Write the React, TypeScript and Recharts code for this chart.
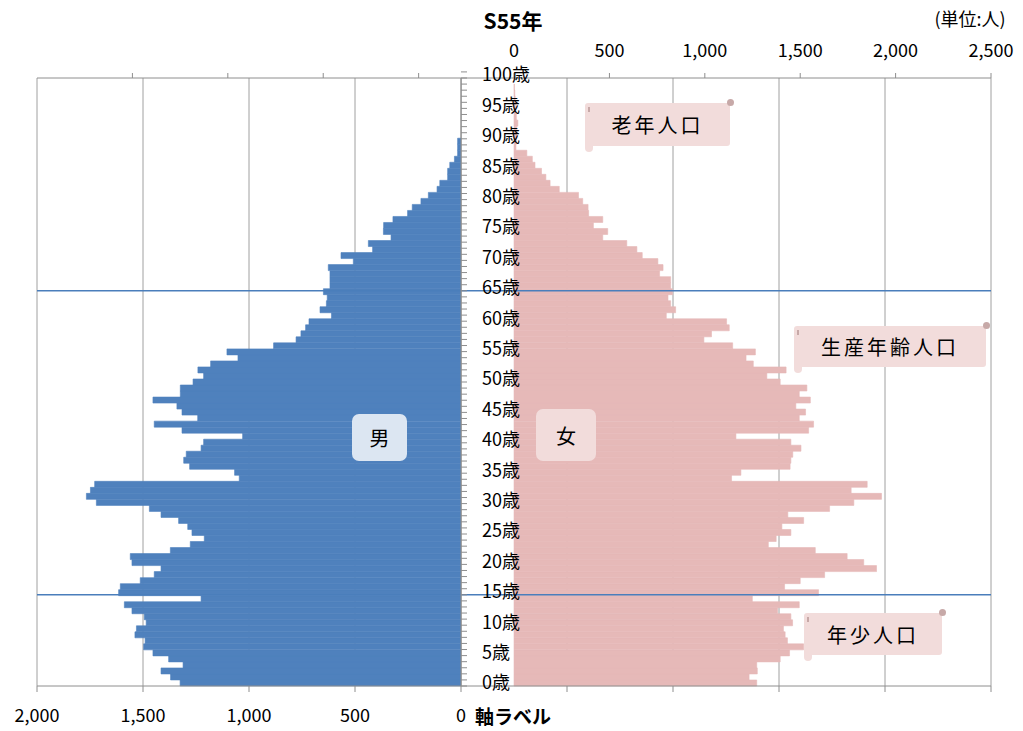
import { BarChart, Bar, XAxis, YAxis, CartesianGrid, ReferenceLine } from 'recharts';

// ages 0..100 (one row per year of age)
const ages = Array.from({ length: 101 }, (_, i) => i);

const maleCounts = [
  1325, 1370, 1415, 1311, 1379, 1453, 1497, 1490, 1538, 1531,
  1485, 1494, 1552, 1588, 1226, 1615, 1607, 1513, 1447, 1415,
  1552, 1560, 1371, 1277, 1211, 1269, 1289, 1332, 1415, 1470,
  1720, 1767, 1748, 1728, 1046, 1068, 1280, 1308, 1296, 1226,
  1214, 1030, 1316, 1447, 1242, 1316, 1340, 1453, 1324, 1324,
  1264, 1214, 1241, 1181, 1052, 1104, 884, 778, 755, 733,
  717, 611, 665, 635, 631, 649, 618, 618, 618, 626,
  508, 566, 417, 437, 330, 366, 365, 321, 252, 230,
  189, 154, 113, 100, 63, 63, 53, 31, 16, 16,
  16, 0, 0, 0, 0, 0, 0, 0, 0, 0,
  0,
];

const femaleCounts = [
  1272, 1232, 1275, 1272, 1395, 1444, 1518, 1433, 1421, 1412,
  1460, 1451, 1381, 1495, 1249, 1596, 1418, 1500, 1628, 1900,
  1833, 1746, 1579, 1333, 1374, 1451, 1404, 1518, 1435, 1654,
  1781, 1926, 1767, 1851, 1140, 1189, 1447, 1451, 1461, 1504,
  1451, 1163, 1544, 1570, 1495, 1528, 1477, 1553, 1495, 1535,
  1395, 1325, 1426, 1254, 1216, 1265, 1146, 995, 1035, 1128,
  1114, 798, 847, 821, 807, 830, 821, 821, 763, 781,
  754, 672, 644, 591, 465, 491, 416, 465, 391, 388,
  360, 338, 237, 189, 167, 144, 110, 96, 67, 10,
  12, 14, 14, 20, 12, 8, 7, 6, 4, 2,
  0,
];

const labelAges = [0, 5, 10, 15, 20, 25, 30, 35, 40, 45, 50, 55, 60, 65, 70, 75, 80, 85, 90, 95, 100];
const maleTicks = [0, 500, 1000, 1500, 2000];
const maleTopTicks = [500, 1000, 1500, 2000];
const femaleTicks = [0, 500, 1000, 1500, 2000, 2500];
const femaleGridTicks = [0, 500, 1000, 1500, 2000];
const ageEdges = Array.from({ length: 102 }, (_, i) => i);
const boundaryAges = [65, 15];

const rows = ages.map((age, i) => ({ age, male: maleCounts[i], female: femaleCounts[i] }));
// label ticks sit in the middle of each one-year band
const labelTicks = labelAges.map((a) => a + 0.5);

const FONT = '"Noto Sans CJK JP", "Noto Sans", sans-serif';
const AXIS_GREY = '#8e8e8e';
const GRID_GREY = '#a0a0a0';
const MALE_BLUE = '#4f81bd';
const FEMALE_PINK = '#e6b9b8';
const LINE_BLUE = '#4a7ebb';
const NOTE_PINK = '#f2dcdb';

const fmt = (v: number) => v.toLocaleString('en-US');
const blank = () => '';
const ageLabel = (v: number) => `${Math.round(v - 0.5)}歳`;

type NoteProps = { left: number; top: number; width: number; height: number; text: string };

function Scroll({ left, top, width, height, text }: NoteProps) {
  return (
    <div style={{ position: 'absolute', left, top, width, height }}>
      <div style={{ position: 'absolute', left: 0, top: 0, width, height, background: NOTE_PINK, borderRadius: 3 }} />
      <div style={{ position: 'absolute', left: 0, top: height - 4, width: 8, height: 10, background: NOTE_PINK, borderRadius: '0 0 4px 4px' }} />
      <div style={{ position: 'absolute', right: -4, top: -4, width: 7, height: 7, borderRadius: '50%', background: '#c7a9a8' }} />
      <div style={{ position: 'absolute', left: 3, top: 4, width: 2, height: 5, background: '#c7a9a8' }} />
      <div style={{ position: 'absolute', left: 0, top: 0, width, height, display: 'flex', alignItems: 'center', justifyContent: 'center', fontSize: 20, letterSpacing: 3, color: '#000' }}>
        {text}
      </div>
    </div>
  );
}

function Tag({ left, top, width, height, text, bg }: NoteProps & { bg: string }) {
  return (
    <div style={{ position: 'absolute', left, top, width, height, background: bg, borderRadius: 7, display: 'flex', alignItems: 'center', justifyContent: 'center', fontSize: 20, color: '#000' }}>
      {text}
    </div>
  );
}

export default function App() {
  return (
    <div style={{ position: 'absolute', left: 0, top: 0, width: 1023, height: 731, background: '#fff', fontFamily: FONT, overflow: 'hidden' }}>
      {/* female side */}
      <div style={{ position: 'absolute', left: 461, top: 0 }}>
        <BarChart layout="vertical" width={562} height={731} data={rows} barCategoryGap={0}
          margin={{ top: 48, right: 32, bottom: 0, left: 0 }}>
          <CartesianGrid xAxisId="b" yAxisId="c" horizontal={false} stroke={GRID_GREY} />
          <XAxis xAxisId="f" type="number" orientation="top" domain={[-278, 2500]} allowDataOverflow
            ticks={femaleTicks} tickFormatter={fmt} height={30} tickSize={5} tickMargin={16}
            stroke={AXIS_GREY} tick={{ fill: '#000', fontSize: 18, fontFamily: FONT }} />
          <XAxis xAxisId="b" type="number" orientation="bottom" domain={[-500, 2000]} allowDataOverflow
            ticks={femaleGridTicks} tickFormatter={blank} height={45} tickSize={6} stroke={AXIS_GREY} />
          <YAxis yAxisId="c" type="category" dataKey="age" reversed hide />
          <YAxis yAxisId="tk" type="number" domain={[0, 101]} reversed hide allowDataOverflow />
          <Bar xAxisId="f" yAxisId="c" dataKey="female" fill={FEMALE_PINK} stroke={FEMALE_PINK} strokeWidth={0.6}
            isAnimationActive={false} />
          {boundaryAges.map((a) => (
            <ReferenceLine key={a} xAxisId="f" yAxisId="tk" y={a} stroke={LINE_BLUE} strokeWidth={1.5} />
          ))}
        </BarChart>
      </div>

      {/* male side, with the age axis on its right edge */}
      <div style={{ position: 'absolute', left: 0, top: 0 }}>
        <BarChart layout="vertical" width={549} height={731} data={rows} barCategoryGap={0}
          margin={{ top: 48, right: 0, bottom: 0, left: 37 }}>
          <CartesianGrid xAxisId="m" yAxisId="c" horizontal={false} stroke={GRID_GREY} />
          <XAxis xAxisId="m" type="number" orientation="bottom" domain={[0, 2000]} reversed allowDataOverflow
            ticks={maleTicks} tickFormatter={fmt} height={45} tickSize={6} tickMargin={17}
            stroke={AXIS_GREY} tick={{ fill: '#000', fontSize: 18, fontFamily: FONT }} />
          <XAxis xAxisId="t" type="number" orientation="top" domain={[0, 2222]} allowDataOverflow
            ticks={maleTopTicks} tickFormatter={blank} height={30} tickSize={5} stroke={AXIS_GREY} />
          <YAxis yAxisId="c" type="category" dataKey="age" reversed hide />
          <YAxis yAxisId="ylbl" type="number" orientation="right" domain={[0, 101]} reversed allowDataOverflow
            ticks={labelTicks} interval={0} tickFormatter={ageLabel} width={80} tickSize={0} tickMargin={13}
            axisLine={false} tickLine={false} tick={{ fill: '#000', fontSize: 18, fontFamily: FONT, textAnchor: 'start' }} />
          <YAxis yAxisId="yedge" type="number" orientation="right" domain={[0, 101]} reversed allowDataOverflow
            ticks={ageEdges} interval={0} tickFormatter={blank} width={8} tickSize={6} stroke={AXIS_GREY} />
          <Bar xAxisId="m" yAxisId="c" dataKey="male" fill={MALE_BLUE} stroke={MALE_BLUE} strokeWidth={0.6}
            isAnimationActive={false} />
          {boundaryAges.map((a) => (
            <ReferenceLine key={a} xAxisId="m" yAxisId="yedge" y={a} stroke={LINE_BLUE} strokeWidth={1.5} />
          ))}
        </BarChart>
      </div>

      {/* texts and notes */}
      <div style={{ position: 'absolute', left: 470, top: 9, width: 86, textAlign: 'center', fontSize: 21, fontWeight: 'bold', lineHeight: '22px' }}>S55年</div>
      <div style={{ position: 'absolute', left: 920, top: 6, width: 100, textAlign: 'center', fontSize: 18, lineHeight: '24px' }}>(単位:人)</div>
      <div style={{ position: 'absolute', left: 468, top: 703, width: 90, textAlign: 'center', fontSize: 19, fontWeight: 'bold', lineHeight: '26px' }}>軸ラベル</div>

      <Tag left={352} top={414} width={55} height={47} text="男" bg="#dce6f2" />
      <Tag left={536} top={409} width={60} height={52} text="女" bg={NOTE_PINK} />

      <Scroll left={585} top={103} width={145} height={43} text="老年人口" />
      <Scroll left={794} top={326} width={192} height={41} text="生産年齢人口" />
      <Scroll left={804} top={613} width={138} height={42} text="年少人口" />
    </div>
  );
}
